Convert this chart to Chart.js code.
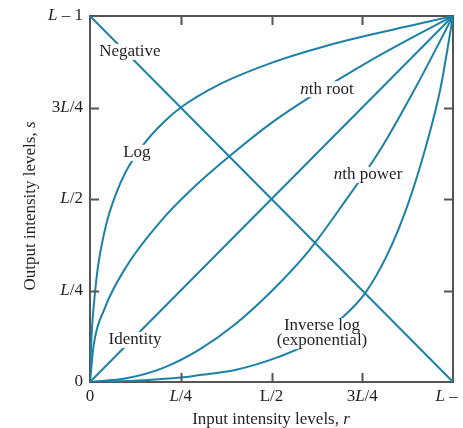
<!DOCTYPE html>
<html>
<head>
<meta charset="utf-8">
<script src="https://cdn.jsdelivr.net/npm/chart.js@4/dist/chart.umd.min.js"></script>
<style>
  body { margin: 0; background: #fff; }
  #wrap { width: 463px; height: 428px; }
</style>
</head>
<body>
<div id="wrap"><canvas id="chart"></canvas></div>
<script>
// curves (r = input level, s = output level, 0..1 of L-1)
var negR = [0, 1];
var negS = [1, 0];
var idR = [0, 1];
var idS = [0, 1];
var logR = [0, 0.002, 0.005, 0.011, 0.022, 0.045, 0.07, 0.1, 0.15, 0.2, 0.25, 0.35, 0.5, 0.65, 0.8, 1];
var logS = [0, 0.07, 0.14, 0.215, 0.315, 0.432, 0.51, 0.577, 0.652, 0.707, 0.75, 0.81, 0.872, 0.918, 0.955, 1];
var rootR = [0, 0.01, 0.04, 0.1, 0.2, 0.3, 0.4, 0.5, 0.6, 0.7, 0.8, 0.9, 1];
var rootS = [0, 0.1, 0.2, 0.315, 0.445, 0.545, 0.63, 0.708, 0.775, 0.836, 0.894, 0.948, 1];
var powR = [0, 0.1, 0.2, 0.3, 0.4, 0.5, 0.6, 0.7, 0.8, 0.9, 1];
var powS = [0, 0.01, 0.038, 0.088, 0.158, 0.248, 0.355, 0.49, 0.635, 0.81, 1];
var invR = [0, 0.15, 0.25, 0.303, 0.4, 0.518, 0.6, 0.694, 0.758, 0.82, 0.876, 0.93, 0.965, 1];
var invS = [0, 0.005, 0.012, 0.019, 0.033, 0.068, 0.104, 0.175, 0.243, 0.35, 0.486, 0.66, 0.8, 1];

// axis ticks
var tickVals = [0, 0.25, 0.5, 0.75, 1];
var xTickLabels = ['0', '*L*/4', 'L/2', '3*L*/4', '*L* \u2013 1'];
var yTickLabels = ['0', '*L*/4', '*L*/2', '3*L*/4', '*L* \u2013 1'];

// curve labels (anchored in data units)
var annTexts = ['Negative', 'Log', '*n*th root', '*n*th power', 'Identity', 'Inverse log', '(exponential)'];
var annR = [0.110, 0.129, 0.653, 0.766, 0.124, 0.639, 0.639];
var annS = [0.902, 0.626, 0.800, 0.566, 0.115, 0.153, 0.112];

var blue = '#1c80a8';
var ink = '#231f20';
var frame = '#555555';
var FONT = '"Liberation Serif", "DejaVu Serif", serif';

function pts(r, s) {
  return r.map(function(v, i) { return { x: v, y: s[i] }; });
}

function runs(str) {
  return str.split('*').map(function(t, i) { return { t: t, it: i % 2 === 1 }; })
    .filter(function(p) { return p.t.length; });
}

function measure(ctx, str, size) {
  var rs = runs(str), w = 0;
  rs.forEach(function(p) {
    ctx.font = (p.it ? 'italic ' : '') + size + 'px ' + FONT;
    p.w = ctx.measureText(p.t).width;
    w += p.w;
  });
  return { runs: rs, w: w };
}

function drawText(ctx, str, x, y, align, size) {
  var m = measure(ctx, str, size);
  var sx = align === 'center' ? x - m.w / 2 : align === 'right' ? x - m.w : x;
  ctx.textAlign = 'left';
  ctx.textBaseline = 'middle';
  ctx.fillStyle = ink;
  m.runs.forEach(function(p) {
    ctx.font = (p.it ? 'italic ' : '') + size + 'px ' + FONT;
    ctx.fillText(p.t, sx, y);
    sx += p.w;
  });
}

function line(label, r, s) {
  return {
    label: label,
    data: pts(r, s),
    borderColor: blue,
    borderWidth: 2,
    pointRadius: 0,
    fill: false,
    cubicInterpolationMode: 'monotone'
  };
}

var decor = {
  id: 'decor',
  afterDatasetsDraw: function(chart) {
    var ctx = chart.ctx, a = chart.chartArea;
    var x = chart.scales.x, y = chart.scales.y;
    ctx.save();

    // inward tick marks on all four sides
    ctx.strokeStyle = frame;
    ctx.lineWidth = 2;
    ctx.beginPath();
    tickVals.forEach(function(v) {
      if (v === 0 || v === 1) return;
      var px = Math.round(x.getPixelForValue(v)) + 0.5;
      var py = Math.round(y.getPixelForValue(v)) + 0.5;
      ctx.moveTo(px, a.bottom); ctx.lineTo(px, a.bottom - 9);
      ctx.moveTo(px, a.top); ctx.lineTo(px, a.top + 9);
      ctx.moveTo(a.left, py); ctx.lineTo(a.left + 9, py);
      ctx.moveTo(a.right, py); ctx.lineTo(a.right - 9, py);
    });
    ctx.stroke();

    // curve labels with a white gap behind them
    annTexts.forEach(function(t, i) {
      var px = x.getPixelForValue(annR[i]);
      var py = y.getPixelForValue(annS[i]);
      var m = measure(ctx, t, 17);
      ctx.fillStyle = '#fff';
      ctx.fillRect(px - m.w / 2 - 2, py - 8, m.w + 4, 16);
    });
    annTexts.forEach(function(t, i) {
      drawText(ctx, t, x.getPixelForValue(annR[i]), y.getPixelForValue(annS[i]), 'center', 17);
    });

    // tick labels
    tickVals.forEach(function(v, i) {
      drawText(ctx, xTickLabels[i], x.getPixelForValue(v), a.bottom + 15, 'center', 17);
      drawText(ctx, yTickLabels[i], a.left - 7, y.getPixelForValue(v), 'right', 17);
    });

    // axis titles
    drawText(ctx, 'Input intensity levels, *r*', 271, 420, 'center', 17);
    ctx.translate(31, 206);
    ctx.rotate(-Math.PI / 2);
    drawText(ctx, 'Output intensity levels, *s*', 0, 0, 'center', 17);
    ctx.restore();
  }
};

function axis(pos, fit) {
  return {
    type: 'linear',
    position: pos,
    min: 0,
    max: 1,
    ticks: { display: false },
    grid: { display: false, drawTicks: false },
    border: { display: true, color: frame, width: 2 },
    afterFit: fit
  };
}

new Chart(document.getElementById('chart'), {
  type: 'line',
  data: {
    datasets: [
      line('Negative', negR, negS),
      line('Identity', idR, idS),
      line('Log', logR, logS),
      line('nth root', rootR, rootS),
      line('nth power', powR, powS),
      line('Inverse log', invR, invS)
    ]
  },
  options: {
    responsive: true,
    maintainAspectRatio: false,
    animation: false,
    layout: { padding: 0 },
    plugins: { legend: { display: false }, tooltip: { enabled: false } },
    scales: {
      x: axis('bottom', function(s) { s.height = 46; }),
      y: axis('left', function(s) { s.width = 90; }),
      x2: axis('top', function(s) { s.height = 16; }),
      y2: axis('right', function(s) { s.width = 10; })
    }
  },
  plugins: [decor]
});
</script>
</body>
</html>
